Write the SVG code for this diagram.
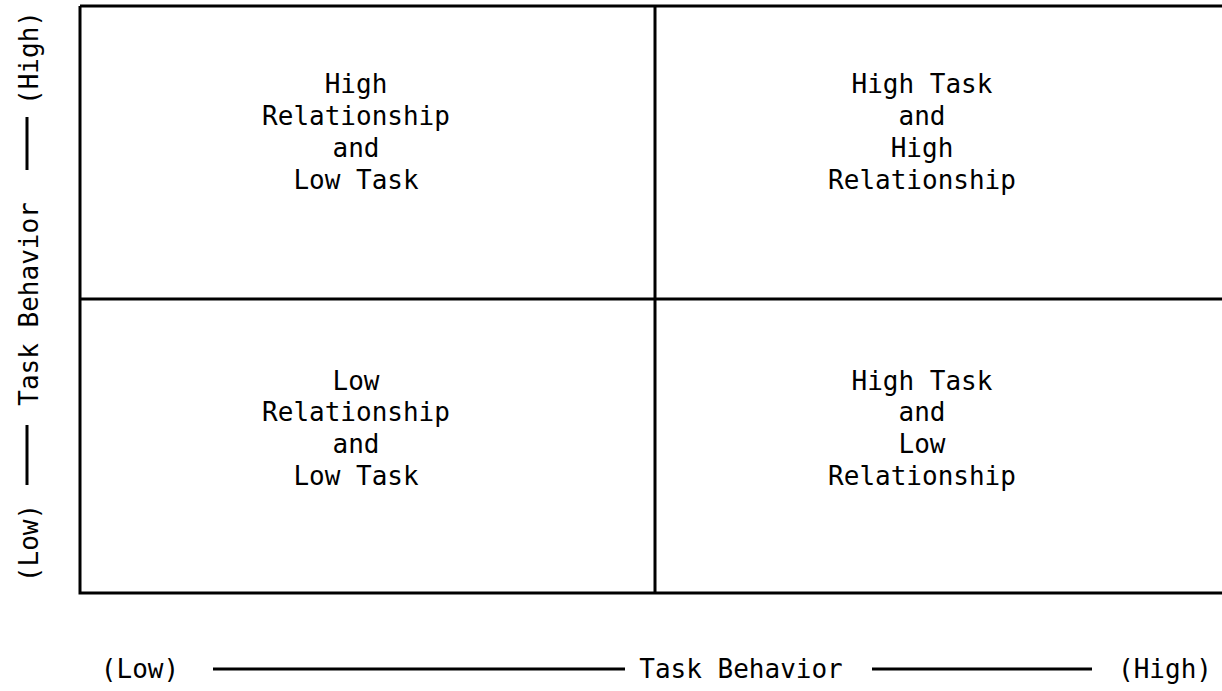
<svg xmlns="http://www.w3.org/2000/svg" width="1222" height="691" viewBox="0 0 1222 691">
<style>
.t{font-family:"DejaVu Sans Mono","Liberation Mono",monospace;font-size:26px;fill:#000;text-anchor:middle}
.ln{stroke:#000;stroke-width:3;fill:none}
</style>
<rect width="1222" height="691" fill="#fff"/>
<g id="connectors">
<path class="ln" d="M80,6 H1222 M80,6 V593 H1222 M655,6 V593 M80,299 H1222"/>
<path class="ln" d="M27,117 V170 M27,425 V485"/>
<path class="ln" d="M213,669 H625 M872,669 H1092"/>
</g>
<g id="q1">
<text class="t" x="356" y="93">High</text>
<text class="t" x="356" y="125">Relationship</text>
<text class="t" x="356" y="157">and</text>
<text class="t" x="356" y="189">Low Task</text>
</g>
<g id="q2">
<text class="t" x="922" y="93">High Task</text>
<text class="t" x="922" y="125">and</text>
<text class="t" x="922" y="157">High</text>
<text class="t" x="922" y="189">Relationship</text>
</g>
<g id="q3">
<text class="t" x="356" y="390">Low</text>
<text class="t" x="356" y="421">Relationship</text>
<text class="t" x="356" y="453">and</text>
<text class="t" x="356" y="485">Low Task</text>
</g>
<g id="q4">
<text class="t" x="922" y="390">High Task</text>
<text class="t" x="922" y="421">and</text>
<text class="t" x="922" y="453">Low</text>
<text class="t" x="922" y="485">Relationship</text>
</g>
<g id="y-axis">
<text class="t" transform="translate(38,58) rotate(-90)">(High)</text>
<text class="t" transform="translate(38,304) rotate(-90)">Task Behavior</text>
<text class="t" transform="translate(38,543) rotate(-90)">(Low)</text>
</g>
<g id="x-axis">
<text class="t" x="140" y="678">(Low)</text>
<text class="t" x="741" y="678">Task Behavior</text>
<text class="t" x="1165" y="678">(High)</text>
</g>
</svg>
